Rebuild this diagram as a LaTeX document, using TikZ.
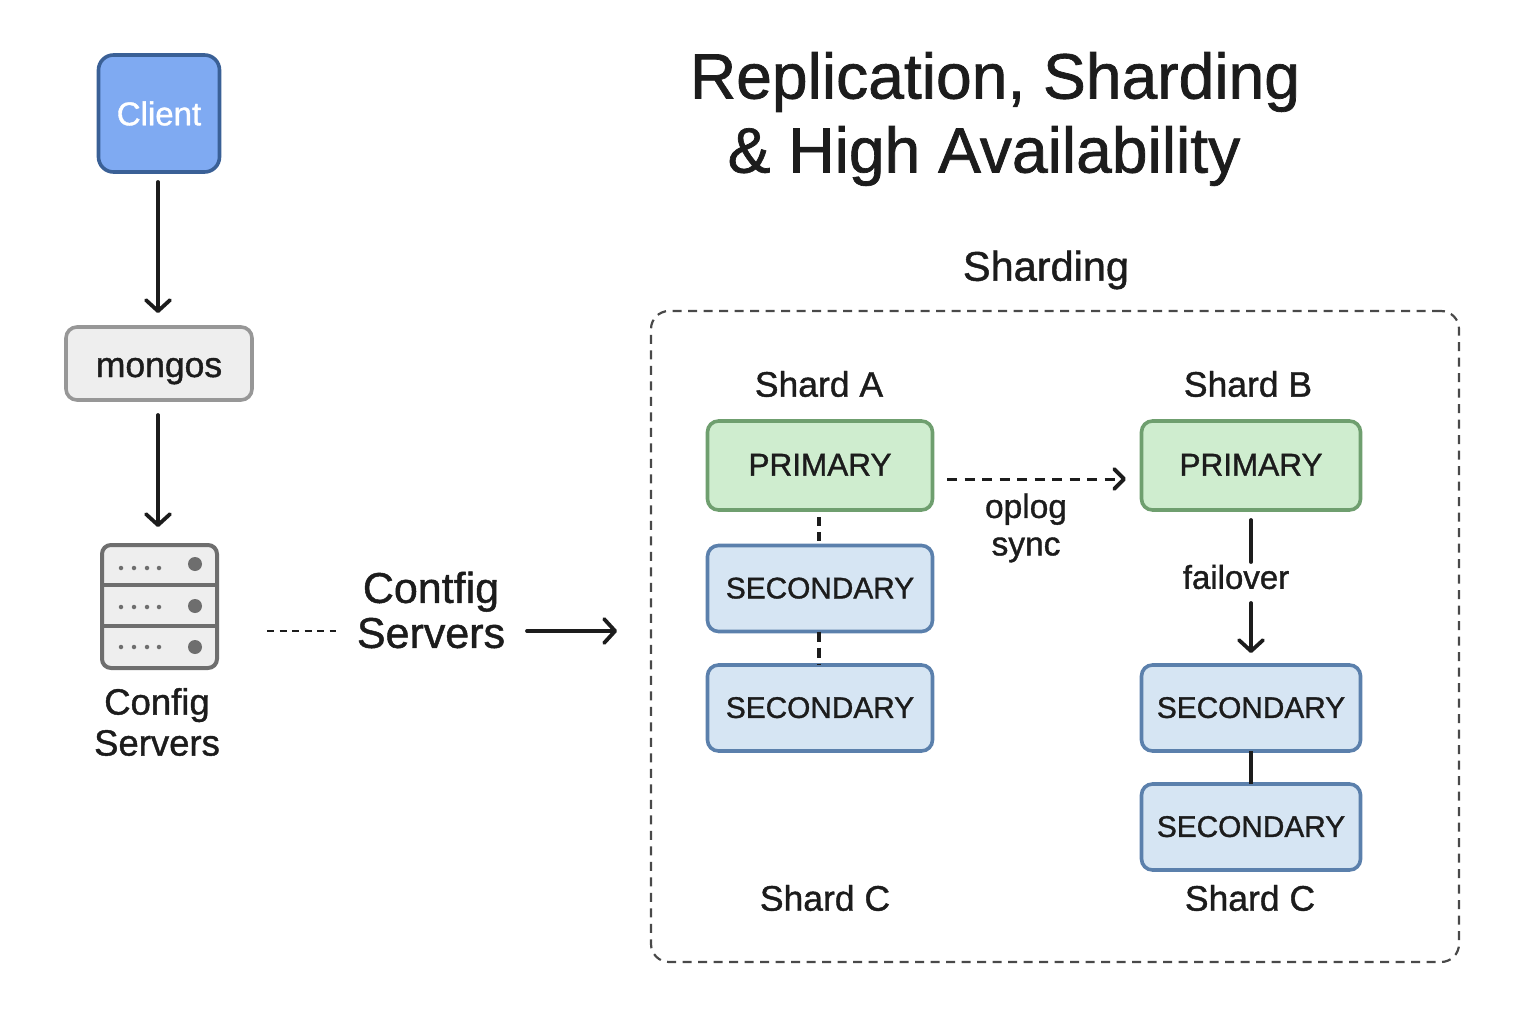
\documentclass[tikz,border=0pt]{standalone}
\usepackage{fontspec}
\setmainfont[FakeBold=1.1]{Liberation Sans}
\usetikzlibrary{arrows.meta,positioning}
\definecolor{ink}{HTML}{1C1C1C}
\definecolor{clientfill}{HTML}{7FAAF2}
\definecolor{clientedge}{HTML}{3A6096}
\definecolor{greyfill}{HTML}{EEEEEE}
\definecolor{greyedge}{HTML}{979797}
\definecolor{iconedge}{HTML}{6E6E6E}
\definecolor{greenfill}{HTML}{CFEDCF}
\definecolor{greenedge}{HTML}{6F9F6F}
\definecolor{bluefill}{HTML}{D6E5F3}
\definecolor{blueedge}{HTML}{5B80AC}
\tikzset{
  x=1pt,y=-1pt,
  every node/.style={text=ink,inner sep=0pt,outer sep=0pt,align=center},
  nodebox/.style={draw,line width=3.6pt,rounded corners=11pt},
  clientbox/.style={nodebox,fill=clientfill,draw=clientedge,rounded corners=15pt,minimum width=121pt,minimum height=117pt,text=white,font=\fontsize{33}{36}\selectfont},
  mongosbox/.style={nodebox,fill=greyfill,draw=greyedge,minimum width=186pt,minimum height=73pt,font=\fontsize{35.5}{38}\selectfont},
  primarybox/.style={nodebox,fill=greenfill,draw=greenedge,minimum height=89pt,font=\fontsize{31.5}{38}\selectfont},
  secondarybox/.style={nodebox,fill=bluefill,draw=blueedge,minimum height=86pt,font=\fontsize{29.8}{36}\selectfont},
  label/.style={font=\fontsize{35.5}{38}\selectfont},
  titlelabel/.style={font=\fontsize{64.2}{74}\selectfont},
  link/.style={draw=ink,line width=3.8pt,line cap=round},
  tip/.style={-{Straight Barb[length=11pt,width=24pt,line width=3.8pt,round]}},
  srvdot/.style={circle,fill=iconedge,minimum size=4.5pt},
  srvled/.style={circle,fill=iconedge,minimum size=14pt}
}
\begin{document}
\begin{tikzpicture}
\useasboundingbox (0,0) rectangle (1536,1024);
% title
\node[titlelabel] (t1) at (995,82) {Replication, Sharding};
\node[titlelabel] (t2) at (984,156) {\& High Availability};
% left column
\node[clientbox] (client) at (159,113.5) {Client};
\node[mongosbox] (mongos) at (159,363.5) {\smash{\raisebox{-13.5pt}{mongos}}};
\node[draw=iconedge,fill=greyfill,line width=4pt,rounded corners=9pt,minimum width=115pt,minimum height=123pt] (server) at (159.5,606.5) {};
\draw[draw=iconedge,line width=3.5pt] (102,585) -- (217,585) (102,626) -- (217,626);
\foreach \yy/\ly in {568/564,607/606,647/647}{
  \foreach \xx in {121,134,147,159}{\node[srvdot] at (\xx,\yy) {};}
  \node[srvled] at (195,\ly) {};
}
\node[font=\fontsize{36.5}{41}\selectfont] (cfgname) at (157,722) {Config\\Servers};
\draw[link,tip,shorten <=10pt,shorten >=14pt] ([xshift=-1pt]client.south) -- ([xshift=-1pt]mongos.north);
\draw[link,tip,shorten <=15pt,shorten >=18pt] ([xshift=-1pt]mongos.south) -- ([xshift=-1.5pt]server.north);
% config label and its connectors
\node[font=\fontsize{43}{45}\selectfont] (cfgtext) at (431,610) {Contfig\\Servers};
\coordinate (dashstart) at (267,631);
\coordinate (dashend) at (336,631);
\coordinate (arrowstart) at (527,631);
\coordinate (arrowend) at (617,631);
\draw[draw=ink,line width=2.4pt,dash pattern=on 7pt off 5.5pt] (dashstart) -- (dashend);
\draw[link,tip] (arrowstart) -- (arrowend);
% sharding frame
\node[font=\fontsize{41.5}{45}\selectfont] (shardingtitle) at (1046,270) {Sharding};
\node[draw=ink!80,line width=2.2pt,dash pattern=on 9pt off 6.5pt,rounded corners=18pt,minimum width=808pt,minimum height=651pt] (frame) at (1055,636.5) {};
\node[label] (sa) at (819,384) {Shard A};
\node[label] (sb) at (1248,384) {Shard B};
\node[primarybox,minimum width=225pt] (pa) at (820,465.5) {\raisebox{1.5pt}{PRIMARY}};
\node[secondarybox,minimum width=225pt] (sa1) at (820,588.5) {\raisebox{1pt}{SECONDARY}};
\node[secondarybox,minimum width=225pt] (sa2) at (820,708) {\raisebox{1pt}{SECONDARY}};
\node[primarybox,minimum width=219pt] (pb) at (1251,465.5) {\raisebox{1.5pt}{PRIMARY}};
\node[secondarybox,minimum width=219pt] (sb1) at (1251,708) {\raisebox{1pt}{SECONDARY}};
\node[secondarybox,minimum width=219pt] (sb2) at (1251,827) {\raisebox{1pt}{SECONDARY}};
\node[label] (sc1) at (825,898) {Shard C};
\node[label] (sc2) at (1250,898) {Shard C};
% links inside frame
\draw[draw=ink,line width=3.4pt,dash pattern=on 9pt off 6pt,shorten <=7pt] ([xshift=-1pt]pa.south) -- ([xshift=-1pt]sa1.north);
\draw[draw=ink,line width=3.4pt,dash pattern=on 10pt off 6pt] ([xshift=-1pt]sa1.south) -- ([xshift=-1pt]sa2.north);
\draw[draw=ink,line width=3.8pt] (sb1) -- (sb2);
\coordinate (oplogstart) at (947,479);
\coordinate (oplogend) at (1126,479);
\draw[draw=ink,line width=3pt,dash pattern=on 10pt off 7.5pt,-{Straight Barb[length=10pt,width=20pt,line width=3.8pt,round]}] (oplogstart) -- (oplogend);
\node[font=\fontsize{33.5}{37.5}\selectfont] (oplog) at (1026,528) {oplog\\sync};
\node[font=\fontsize{33}{36}\selectfont] (failover) at (1236,577) {failover};
\coordinate (failtop) at (1251,562);
\coordinate (failbottom) at (1251,603);
\draw[link,shorten <=10pt] (pb) -- (failtop);
\draw[link,tip,shorten >=12pt] (failbottom) -- (sb1);
\end{tikzpicture}
\end{document}
